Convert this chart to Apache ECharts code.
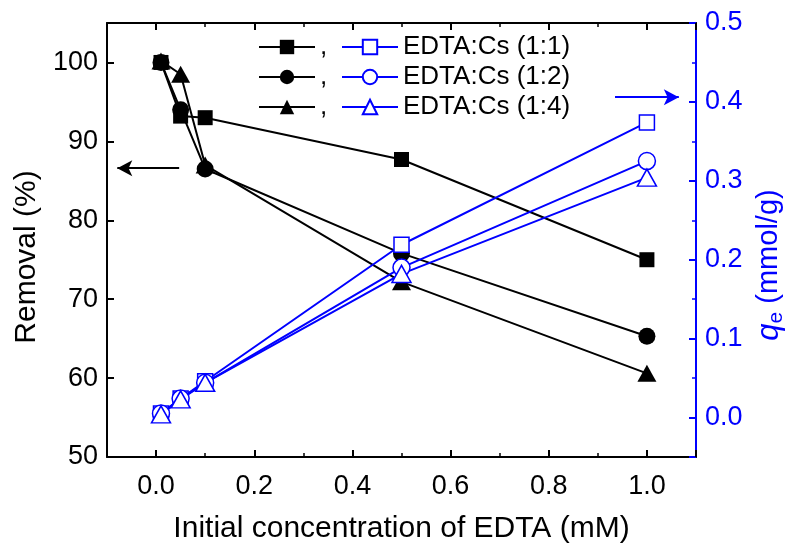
<!DOCTYPE html>
<html>
<head>
<meta charset="utf-8">
<script src="https://cdn.jsdelivr.net/npm/echarts@6/dist/echarts.min.js"></script>
<style>
  html, body { margin: 0; padding: 0; background: #fff; }
  #chart { width: 792px; height: 544px; }
</style>
</head>
<body>
<div id="chart"></div>
<script>
// Initial EDTA concentration (mM)
const concentration = [0.01, 0.05, 0.1, 0.5, 1.0];
const ratioLabels = ['EDTA:Cs (1:1)', 'EDTA:Cs (1:2)', 'EDTA:Cs (1:4)'];

// Cs removal (%) for each EDTA:Cs ratio
const removal11 = [100.0, 93.2, 93.0, 87.7, 75.0];
const removal12 = [100.0, 94.0, 86.5, 75.8, 65.3];
const removal14 = [100.2, 98.5, 87.0, 72.2, 60.6];

// Adsorbed amount qe (mmol/g)
const qe11 = [0.005, 0.024, 0.046, 0.219, 0.374];
const qe12 = [0.005, 0.024, 0.044, 0.190, 0.325];
const qe14 = [0.004, 0.023, 0.044, 0.182, 0.304];

const FONT = "'Liberation Sans', Arial, sans-serif";
const BLACK = '#000000';
const BLUE = '#0000ff';
const TICK_FONT = 27;
const TITLE_FONT = 30;
const LEGEND_FONT = 26;

const pairs = arr => concentration.map((x, i) => [x, arr[i]]);

function removalSeries(name, values, symbol, size) {
  return {
    name, type: 'line', yAxisIndex: 0, data: pairs(values),
    symbol, symbolSize: size, showAllSymbol: true,
    lineStyle: { color: BLACK, width: 2 },
    itemStyle: { color: BLACK, borderWidth: 0 },
    z: 3
  };
}
function qeSeries(name, values, symbol, size) {
  return {
    name, type: 'line', yAxisIndex: 1, data: pairs(values),
    symbol, symbolSize: size, showAllSymbol: true,
    lineStyle: { color: BLUE, width: 2 },
    itemStyle: { color: '#ffffff', borderColor: BLUE, borderWidth: 1.5 },
    z: 4
  };
}

const s1 = removalSeries('removal-1', removal11, 'rect', 15);
const s2 = removalSeries('removal-2', removal12, 'circle', 17);
const s3 = removalSeries('removal-3', removal14, 'triangle', [19, 17]);
const b1 = qeSeries(ratioLabels[0], qe11, 'rect', 15);
const b2 = qeSeries(ratioLabels[1], qe12, 'circle', 17);
const b3 = qeSeries(ratioLabels[2], qe14, 'triangle', [19, 17]);

// arrows pointing each group of curves to its axis
s1.markLine = {
  silent: true, animation: false, symbol: ['none', 'arrow'], symbolSize: [12, 15],
  label: { show: false }, lineStyle: { color: BLACK, width: 2, type: 'solid' },
  data: [[{ coord: [0.047, 86.6] }, { coord: [-0.079, 86.6] }]]
};
b1.markLine = {
  silent: true, animation: false, symbol: ['none', 'arrow'], symbolSize: [12, 15],
  label: { show: false }, lineStyle: { color: BLUE, width: 2, type: 'solid' },
  data: [[{ coord: [0.935, 0.406] }, { coord: [1.065, 0.406] }]]
};

const xCommon = {
  type: 'value', min: -0.1, max: 1.1, splitNumber: 6,
  splitLine: { show: false },
  axisLine: { show: true, onZero: false, lineStyle: { color: BLACK, width: 2 } },
  axisTick: { show: true, inside: true, length: 7, lineStyle: { color: BLACK, width: 2 } },
  minorTick: { show: true, splitNumber: 2, length: 4, lineStyle: { color: BLACK, width: 1.5 } }
};

const option = {
  animation: false,
  backgroundColor: '#ffffff',
  textStyle: { fontFamily: FONT },
  grid: { left: 107, right: 96, top: 23, bottom: 87, containLabel: false, outerBoundsMode: 'none' },
  legend: [
    {
      data: ['removal-1', 'removal-2', 'removal-3'],
      orient: 'vertical', left: 253, top: 29,
      itemWidth: 56, itemHeight: 18, itemGap: 4, selectedMode: false,
      formatter: () => ',',
      textStyle: { fontFamily: FONT, fontSize: LEGEND_FONT, color: BLACK }
    },
    {
      data: ratioLabels,
      orient: 'vertical', left: 336, top: 29,
      itemWidth: 56, itemHeight: 18, itemGap: 4, selectedMode: false,
      textStyle: { fontFamily: FONT, fontSize: LEGEND_FONT, color: BLACK }
    }
  ],
  xAxis: [
    Object.assign({}, xCommon, {
      position: 'bottom',
      name: 'Initial concentration of EDTA (mM)',
      nameLocation: 'middle', nameGap: 57,
      nameTextStyle: { fontFamily: FONT, fontSize: TITLE_FONT, color: BLACK },
      axisLabel: {
        fontFamily: FONT, fontSize: TICK_FONT, color: BLACK, margin: 16,
        showMinLabel: false, showMaxLabel: false,
        formatter: v => v.toFixed(1)
      }
    }),
    Object.assign({}, xCommon, {
      position: 'top',
      axisLabel: { show: false }
    })
  ],
  yAxis: [
    {
      type: 'value', min: 50, max: 105, splitNumber: 5, position: 'left',
      name: 'Removal (%)', nameLocation: 'middle', nameGap: 64,
      nameTextStyle: { fontFamily: FONT, fontSize: TITLE_FONT, color: BLACK, padding: [0, 34, 0, 0] },
      splitLine: { show: false },
      axisLine: { show: true, onZero: false, lineStyle: { color: BLACK, width: 2 } },
      axisTick: { show: true, inside: true, length: 7, lineStyle: { color: BLACK, width: 2 } },
      axisLabel: {
        fontFamily: FONT, fontSize: TICK_FONT, color: BLACK, margin: 9,
        showMaxLabel: false, formatter: v => (v % 10 === 0 ? String(v) : '')
      }
    },
    {
      type: 'value', min: -0.05, max: 0.5, splitNumber: 5, position: 'right',
      name: '{q|q}{e|e}{t| (mmol/g)}', nameLocation: 'middle', nameGap: 50, nameRotate: 90,
      nameTextStyle: {
        fontFamily: FONT, fontSize: TITLE_FONT, color: BLUE, padding: [0, 50, 0, 0],
        rich: {
          q: { fontFamily: FONT, fontSize: 31, fontStyle: 'italic', color: BLUE, lineHeight: 36, verticalAlign: 'middle' },
          e: { fontFamily: FONT, fontSize: 21, color: BLUE, lineHeight: 21, verticalAlign: 'bottom' },
          t: { fontFamily: FONT, fontSize: TITLE_FONT - 1, color: BLUE, lineHeight: 36, verticalAlign: 'middle' }
        }
      },
      splitLine: { show: false },
      axisLine: { show: true, onZero: false, lineStyle: { color: BLUE, width: 2 } },
      axisTick: { show: true, inside: true, length: 7, lineStyle: { color: BLUE, width: 2 } },
      minorTick: { show: true, splitNumber: 2, length: 4, lineStyle: { color: BLUE, width: 1.5 } },
      axisLabel: {
        fontFamily: FONT, fontSize: TICK_FONT, color: BLUE, margin: 9,
        showMinLabel: false, formatter: v => v.toFixed(1)
      }
    }
  ],
  series: [s1, s2, s3, b1, b2, b3]
};

const chart = echarts.init(document.getElementById('chart'), null, { renderer: 'canvas' });
chart.setOption(option);
</script>
</body>
</html>
